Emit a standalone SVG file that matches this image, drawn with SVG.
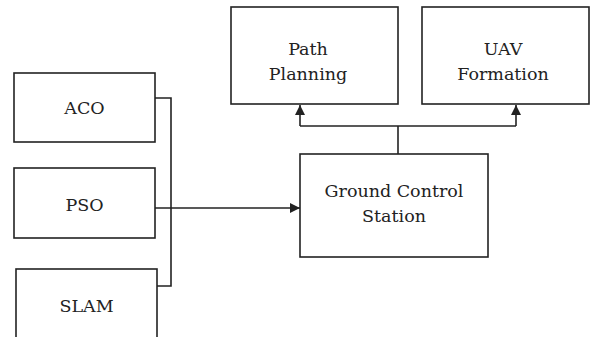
<svg xmlns="http://www.w3.org/2000/svg" width="591" height="337" viewBox="0 0 591 337">
<style>
.box{fill:#fff;stroke:#222;stroke-width:1.6}
.t{font-family:'DejaVu Serif','Liberation Serif',serif;font-size:17.5px;fill:#222;text-anchor:middle}
.c{fill:none;stroke:#222;stroke-width:1.6}
</style>
<defs>
<marker id="ah" viewBox="0 0 10 10" refX="10" refY="5" markerWidth="10" markerHeight="10" markerUnits="userSpaceOnUse" orient="auto">
<path d="M0,0 L10,5 L0,10 Z" fill="#222"/>
</marker>
</defs>
<rect width="591" height="337" fill="#fff"/>
<g id="connectors">
<polyline class="c" points="155,98 171,98 171,286 157,286"/>
<line class="c" x1="155" y1="208" x2="300" y2="208" marker-end="url(#ah)"/>
<polyline class="c" points="398,154 398,126"/>
<polyline class="c" points="300,126 516,126"/>
<line class="c" x1="300" y1="126" x2="300" y2="105" marker-end="url(#ah)"/>
<line class="c" x1="516" y1="126" x2="516" y2="105" marker-end="url(#ah)"/>
</g>
<g id="aco">
<rect class="box" x="14" y="73" width="141" height="69"/>
<text class="t" x="84.5" y="114">ACO</text>
</g>
<g id="pso">
<rect class="box" x="14" y="168" width="141" height="70"/>
<text class="t" x="84.5" y="211">PSO</text>
</g>
<g id="slam">
<rect class="box" x="16" y="269" width="141" height="80"/>
<text class="t" x="86.5" y="312">SLAM</text>
</g>
<g id="gcs">
<rect class="box" x="300" y="154" width="188" height="103"/>
<text class="t" x="394" y="197">Ground Control</text>
<text class="t" x="394" y="222">Station</text>
</g>
<g id="path-planning">
<rect class="box" x="231" y="7" width="167" height="97"/>
<text class="t" x="308" y="55">Path</text>
<text class="t" x="308" y="80">Planning</text>
</g>
<g id="uav-formation">
<rect class="box" x="422" y="7" width="167" height="97"/>
<text class="t" x="503" y="55">UAV</text>
<text class="t" x="503" y="80">Formation</text>
</g>
</svg>
